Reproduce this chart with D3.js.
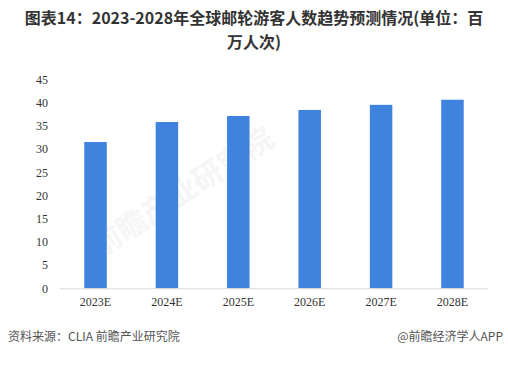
<!DOCTYPE html>
<html><head><meta charset="utf-8">
<script src="https://cdn.jsdelivr.net/npm/d3@7"></script>
<style>body{margin:0;background:#fff;}svg{display:block;}</style>
</head><body>
<svg id="c" width="508" height="366"></svg>
<script>
const categories = ["2023E","2024E","2025E","2026E","2027E","2028E"];
const values = [31.5, 35.8, 37.1, 38.4, 39.5, 40.6];
const yTicks = [0,5,10,15,20,25,30,35,40,45];
const titleLines = ["图表14：2023-2028年全球邮轮游客人数趋势预测情况(单位：百","万人次)"];
const sourceText = "资料来源：CLIA 前瞻产业研究院";
const brandText = "@前瞻经济学人APP";

const svg = d3.select("#c");
const W = 508;
const x = d3.scaleBand().domain(categories).range([60,488]).paddingInner(0.685).paddingOuter(0.34);
const y = d3.scaleLinear().domain([0,45]).range([288.3,79.3]);

// title
svg.append("g").selectAll("text").data(titleLines).join("text")
  .attr("x", W/2).attr("y",(d,i)=>24+i*23.6)
  .attr("text-anchor","middle")
  .attr("font-family","'Noto Sans CJK SC','Noto Sans',sans-serif")
  .attr("font-weight","bold").attr("font-size",16).attr("fill","#333")
  .text(d=>d);

// watermark
svg.append("text").attr("transform","translate(100,258) rotate(-33)")
  .attr("font-family","'Noto Sans CJK SC',sans-serif").attr("font-weight","bold")
  .attr("font-size",30).attr("fill","#000").attr("opacity",0.035)
  .text("前瞻产业研究院");

// bars
svg.append("g").selectAll("rect").data(values).join("rect")
  .attr("x",(d,i)=>x(categories[i])).attr("width",x.bandwidth())
  .attr("y",d=>y(d)).attr("height",d=>y(0)-y(d))
  .attr("fill","#3F83DE");

// y axis
const ya = svg.append("g").attr("transform","translate(52,0)")
  .call(d3.axisLeft(y).tickValues(yTicks).tickSize(0).tickPadding(0));
ya.select(".domain").remove();
ya.selectAll("text").attr("font-family","'Liberation Serif','Times New Roman',serif")
  .attr("font-size",12).attr("fill","#333").attr("x",-4);

// x axis
const xa = svg.append("g").attr("transform",`translate(0,${y(0)})`)
  .call(d3.axisBottom(x).tickSize(0).tickPadding(9));
xa.select(".domain").attr("stroke","#d9d9d9").attr("d","M60,0.5H488");
xa.selectAll("text").attr("font-family","'Liberation Serif','Times New Roman',serif")
  .attr("font-size",12).attr("fill","#333");

// footer
svg.append("text").attr("x",8).attr("y",341)
  .attr("font-family","'Noto Sans CJK SC',sans-serif").attr("font-size",12).attr("fill","#555")
  .text(sourceText);
svg.append("text").attr("x",503).attr("y",341).attr("text-anchor","end")
  .attr("font-family","'Noto Sans CJK SC',sans-serif").attr("font-size",12).attr("fill","#555")
  .text(brandText);
</script>
</body></html>
